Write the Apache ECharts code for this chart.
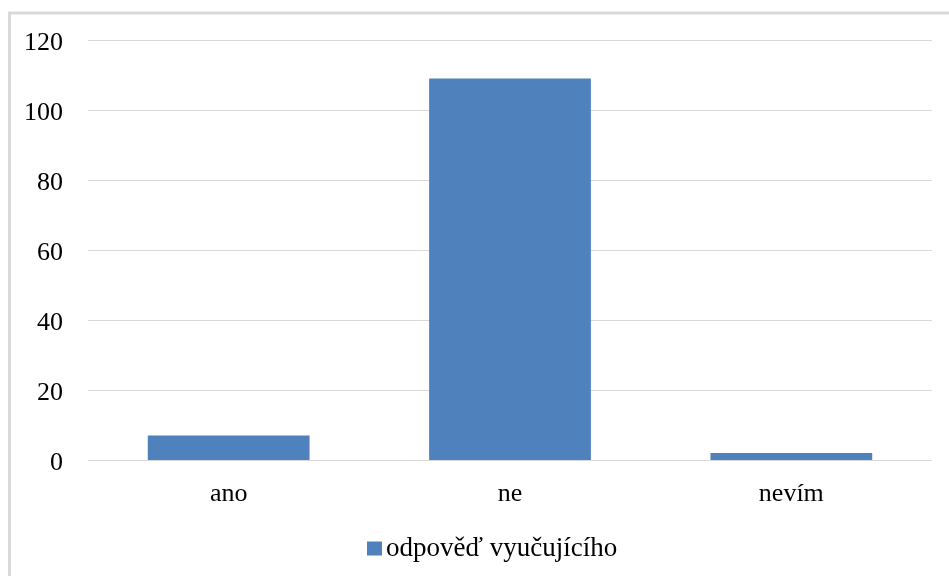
<!DOCTYPE html>
<html>
<head>
<meta charset="utf-8">
<script src="https://cdn.jsdelivr.net/npm/echarts@6/dist/echarts.min.js"></script>
<style>
html,body{margin:0;padding:0;background:#fff;}
#main{width:949px;height:576px;}
</style>
</head>
<body>
<div id="main"></div>
<script>
var categories = ['ano', 'ne', 'nevím'];
var seriesName = 'odpověď vyučujícího';
var values = [7, 109, 2];
var yTicks = {min: 0, max: 120, interval: 20};

var chart = echarts.init(document.getElementById('main'), null, {renderer: 'canvas'});
var font = '"Liberation Serif", "Times New Roman", serif';
chart.setOption({
  animation: false,
  backgroundColor: '#ffffff',
  textStyle: {fontFamily: font},
  graphic: [{
    type: 'rect',
    shape: {x: 9.5, y: 13, width: 960, height: 600},
    style: {fill: 'none', stroke: '#d9d9d9', lineWidth: 3},
    silent: true
  }],
  grid: {left: 88, right: 17, top: 40, bottom: 116, containLabel: false},
  legend: {
    data: [seriesName],
    bottom: 9,
    left: 362,
    icon: 'rect',
    itemWidth: 15,
    itemHeight: 14,
    itemGap: 4,
    textStyle: {fontFamily: font, fontSize: 27, color: '#000', padding: [0, 0, 0, -1]}
  },
  xAxis: {
    type: 'category',
    data: categories,
    axisLine: {show: false},
    axisTick: {show: false},
    axisLabel: {fontFamily: font, fontSize: 26, color: '#000', margin: 21}
  },
  yAxis: {
    type: 'value',
    min: yTicks.min,
    max: yTicks.max,
    interval: yTicks.interval,
    axisLine: {show: false},
    axisTick: {show: false},
    axisLabel: {
      margin: 25,
      formatter: '{a|{value}}',
      rich: {a: {fontFamily: font, fontSize: 26, color: '#000', padding: [6, 0, 0, 0]}}
    },
    splitLine: {lineStyle: {color: '#d9d9d9', width: 1}}
  },
  series: [{
    name: seriesName,
    type: 'bar',
    data: values,
    barWidth: '57.5%',
    itemStyle: {color: '#4f81bd'}
  }]
});
</script>
</body>
</html>
